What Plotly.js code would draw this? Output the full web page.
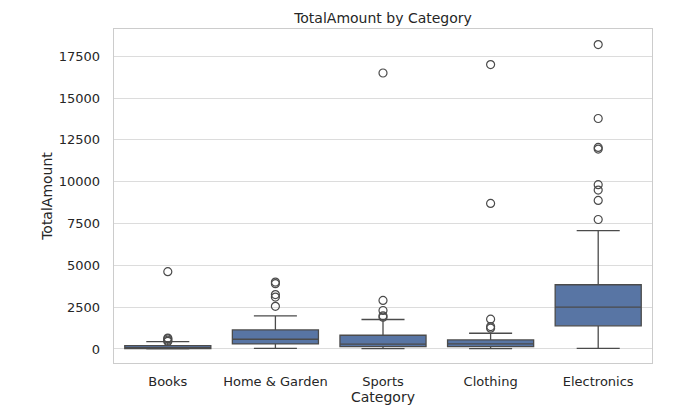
<!DOCTYPE html>
<html>
<head>
<meta charset="utf-8">
<script src="https://cdn.plot.ly/plotly-3.0.1.min.js"></script>
<style>html,body{margin:0;padding:0;background:#fff;}</style>
</head>
<body>
<div id="chart" style="width:680px;height:418px;"></div>
<script>
// Categories and box statistics
const categories = ["Books", "Home & Garden", "Sports", "Clothing", "Electronics"];
const lowerFence = [10, 40, 20, 20, 40];
const q1Values   = [20, 300, 140, 140, 1380];
const medians    = [80, 580, 290, 300, 2500];
const q3Values   = [200, 1140, 820, 540, 3840];
const upperFence = [440, 1980, 1760, 940, 7080];

// Outliers per category
const outliersBooks = [450, 520, 600, 650, 4620];
const outliersHome = [2550, 3100, 3250, 3900, 4000];
const outliersSports = [1900, 1980, 2300, 2900, 16500];
const outliersClothing = [1240, 1340, 1780, 8700, 17000];
const outliersElectronics = [7740, 8880, 9500, 9820, 11950, 12050, 13780, 18200];

const yTickVals = [0, 2500, 5000, 7500, 10000, 12500, 15000, 17500];

const outlierGroups = [outliersBooks, outliersHome, outliersSports, outliersClothing, outliersElectronics];
const outX = [], outY = [];
outlierGroups.forEach((g, i) => g.forEach(v => { outX.push(categories[i]); outY.push(v); }));

const lineColor = "#4b4b4b";
const boxTrace = {
  type: "box",
  x: categories,
  q1: q1Values,
  median: medians,
  q3: q3Values,
  lowerfence: lowerFence,
  upperfence: upperFence,
  boxpoints: false,
  width: 0.8,
  whiskerwidth: 0.5,
  fillcolor: "#5875a4",
  line: {color: lineColor, width: 1.3},
  hoverinfo: "skip",
  showlegend: false
};
const outlierTrace = {
  type: "scatter",
  mode: "markers",
  x: outX,
  y: outY,
  marker: {symbol: "circle-open", size: 8, color: lineColor, line: {width: 1.2, color: lineColor}},
  hoverinfo: "skip",
  showlegend: false
};

const layout = {
  width: 680,
  height: 418,
  margin: {l: 114, r: 28, t: 29, b: 55},
  paper_bgcolor: "#ffffff",
  plot_bgcolor: "#ffffff",
  font: {family: "DejaVu Sans", size: 13, color: "#262626"},
  title: {text: "TotalAmount by Category", font: {family: "DejaVu Sans", size: 14, color: "#262626"},
          x: 0.5, xref: "paper", xanchor: "center", y: 0.956, yref: "container", yanchor: "middle"},
  xaxis: {
    type: "category",
    categoryorder: "array",
    categoryarray: categories,
    range: [-0.5, 4.5],
    showgrid: false,
    zeroline: false,
    showline: true, mirror: true, linecolor: "#cccccc", linewidth: 1.25,
    ticks: "outside", ticklen: 6, tickcolor: "rgba(0,0,0,0)",
    tickfont: {family: "DejaVu Sans", size: 13, color: "#262626"},
    title: {text: "Category", font: {family: "DejaVu Sans", size: 14, color: "#262626"}, standoff: 3},
    automargin: false
  },
  yaxis: {
    range: [-840, 19130],
    tickvals: yTickVals,
    ticktext: yTickVals.map(v => String(v)),
    showgrid: true, gridcolor: "#dcdcdc", gridwidth: 1,
    zeroline: false,
    showline: true, mirror: true, linecolor: "#cccccc", linewidth: 1.25,
    ticks: "outside", ticklen: 10, tickcolor: "rgba(0,0,0,0)",
    tickfont: {family: "DejaVu Sans", size: 13, color: "#262626"},
    title: {text: "TotalAmount", font: {family: "DejaVu Sans", size: 14, color: "#262626"}, standoff: 3},
    automargin: false
  }
};

Plotly.newPlot("chart", [boxTrace, outlierTrace], layout, {displayModeBar: false, staticPlot: true});
</script>
</body>
</html>
